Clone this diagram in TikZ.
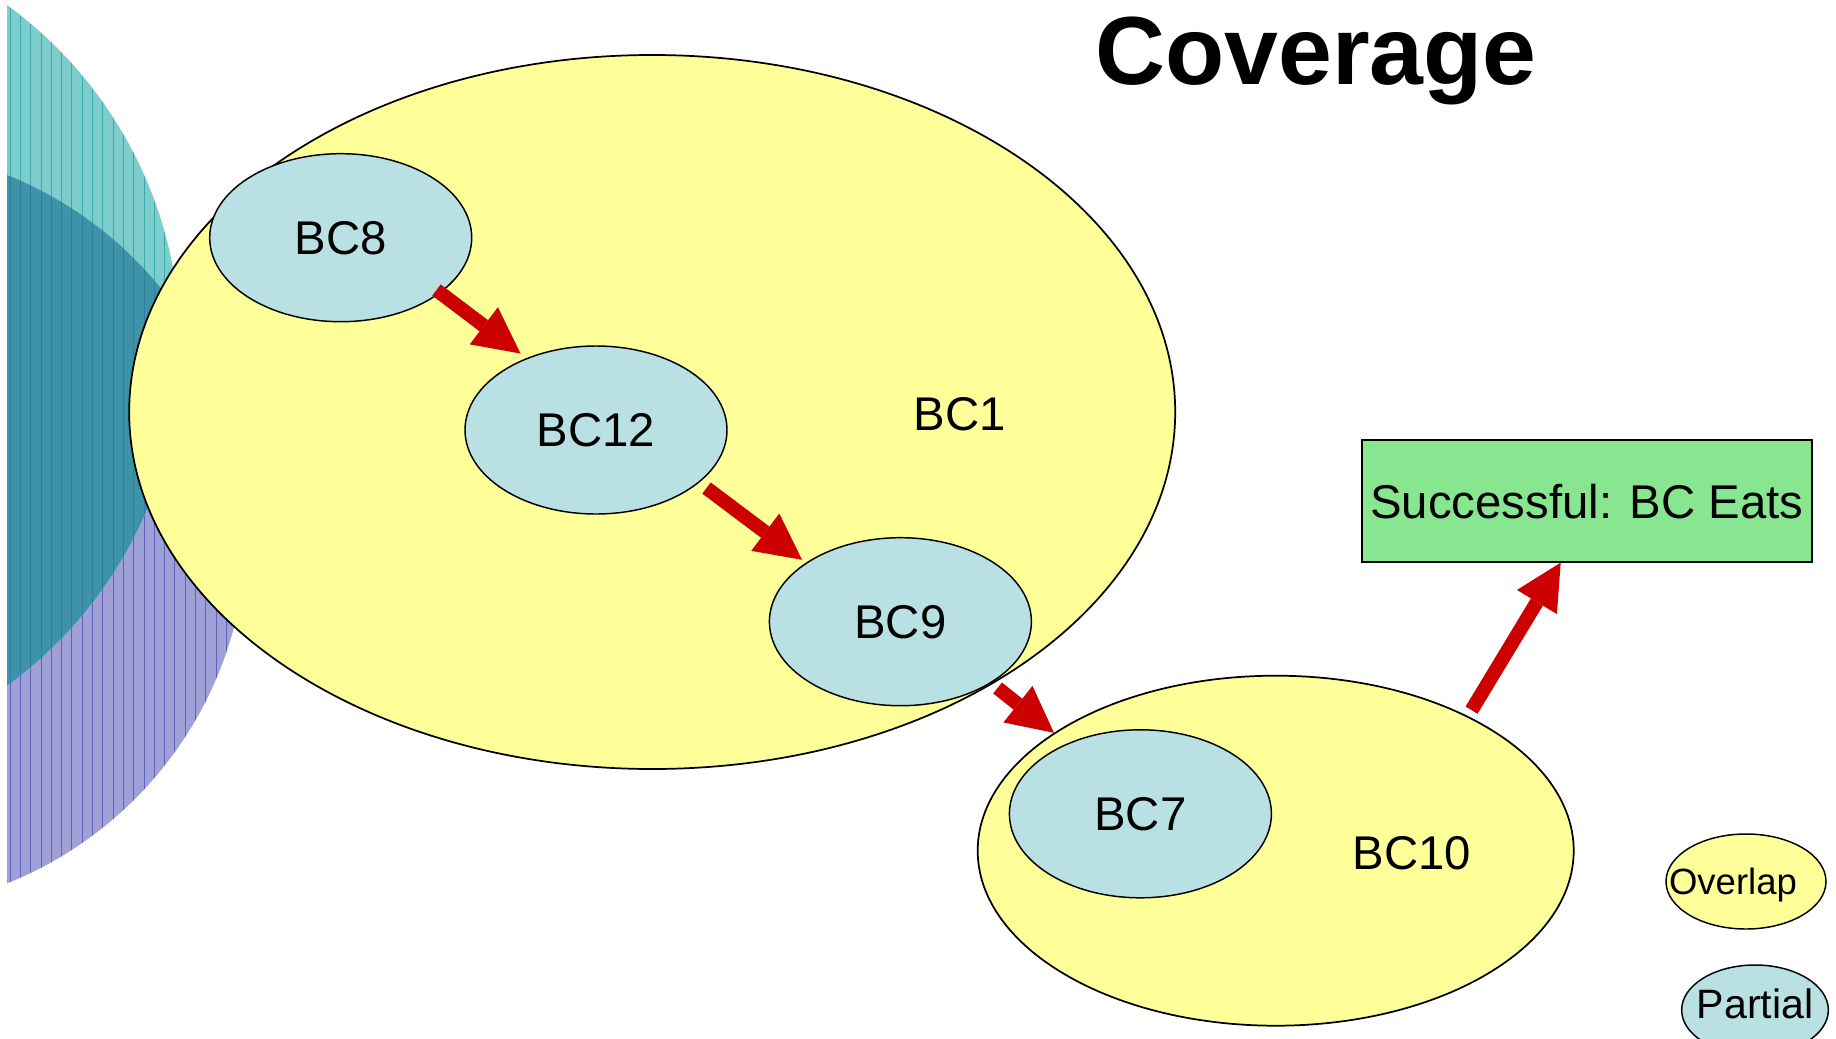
\documentclass[tikz,border=0pt]{standalone}
\usepackage{fontspec}
\setmainfont{Liberation Sans}
\usetikzlibrary{arrows.meta,shapes.geometric}
\definecolor{ylw}{HTML}{FFFF99}
\definecolor{lblue}{HTML}{B9E0E3}
\definecolor{grn}{HTML}{88E590}
\definecolor{arrred}{HTML}{CC0000}
\definecolor{tealf}{HTML}{7DCDCD}
\definecolor{teals}{HTML}{3AABAB}
\definecolor{darkf}{HTML}{3F93A8}
\definecolor{darks}{HTML}{2E7CA2}
\definecolor{purf}{HTML}{A0A0D8}
\definecolor{purs}{HTML}{6262BC}
\begin{document}
\begin{tikzpicture}[x=0.75pt,y=-0.75pt,
  blob/.style={ellipse,draw=black,line width=1.1pt,inner sep=0pt,
    minimum width=196.5pt,minimum height=126pt,fill=lblue,
    font=\fontsize{35.5pt}{40pt}\selectfont,text depth=0pt},
  zone/.style={ellipse,draw=black,line width=1.3pt,inner sep=0pt,fill=ylw},
  lbl/.style={inner sep=0pt,font=\fontsize{35.5pt}{40pt}\selectfont,text depth=0pt},
  flow/.style={draw=arrred,line width=10.5pt,
    -{Triangle[length=34.5pt,width=35pt,line width=0pt]}},
  legendtxt/.style={inner sep=0pt,text depth=0pt}]
\useasboundingbox (0,0) rectangle (1836,1039);
\fill[white] (0,0) rectangle (1836,1039);
% left background shapes
\begin{scope}
  \clip (7,0) rectangle (400,1039);
  \fill[purf] (-134.7,529.2) circle[radius=381.4];
  \begin{scope}
    \clip (-134.7,529.2) circle[radius=381.4];
    \foreach \i in {0,...,25} \draw[purs,line width=0.6pt] (10+\i*10.3,0) -- (10+\i*10.3,1039);
  \end{scope}
  \fill[tealf] (-240.9,345.4) circle[radius=421];
  \begin{scope}
    \clip (-240.9,345.4) circle[radius=421];
    \foreach \i in {0,...,25} \draw[teals,line width=0.6pt] (10+\i*10.3,0) -- (10+\i*10.3,1039);
  \end{scope}
  \begin{scope}
    \clip (-240.9,345.4) circle[radius=421];
    \clip (-134.7,529.2) circle[radius=381.4];
    \fill[darkf] (0,0) rectangle (400,1039);
    \foreach \i in {0,...,25} \draw[darks,line width=0.6pt] (10+\i*10.3,0) -- (10+\i*10.3,1039);
  \end{scope}
\end{scope}
% main zones
\node[zone,minimum width=784.5pt,minimum height=535.5pt] (bc1) at (652.2,412) {};
\node[lbl] (bc1lbl) at (959.5,414) {BC1};
\node[blob] (bc8) at (340.7,237.7) {BC8};
\node[blob] (bc12) at (596,430) {BC12};
\node[blob] (bc9) at (900.4,621.7) {BC9};
\node[zone,minimum width=447pt,minimum height=262.5pt] (bc10) at (1275.7,850.7) {};
\node[lbl] (bc10lbl) at (1412,853) {BC10};
\node[blob] (bc7) at (1140.4,813.8) {BC7};
% result box
\node[draw=black,line width=1.3pt,fill=grn,minimum width=337.7pt,minimum height=91.3pt,
  inner sep=0pt,font=\fontsize{35.5pt}{40pt}\selectfont,text depth=0pt] (box) at (1586.9,500.9) {Successful: BC Eats};
% arrows
\draw[flow,shorten <=-3.75pt,shorten >=5.6pt] (bc8.-29.3) -- (bc12.134.1);
\draw[flow,shorten <=6.8pt,shorten >=3.6pt] (bc12.-27.1) -- (bc9.148.5);
\draw[flow,shorten <=6pt] (bc9.-34.8) -- (bc10.152.5);
\draw[flow,shorten <=5.2pt] (bc10.35) -- (box.-113.9);
% legend
\node[zone,line width=1.1pt,minimum width=120pt,minimum height=71.25pt] (ovl) at (1746,881.5) {};
\node[legendtxt,font=\fontsize{27.4pt}{30pt}\selectfont] (ovltxt) at ([xshift=-9.75pt]ovl.center) {Overlap};
\node[ellipse,draw=black,line width=1.1pt,fill=lblue,inner sep=0pt,minimum width=110pt,minimum height=67.5pt] (par) at (1755,1010) {};
\node[legendtxt,font=\fontsize{30.8pt}{34pt}\selectfont] (partxt) at ([yshift=4.5pt]par.center) {Partial};
% title
\node[anchor=base,inner sep=0pt,font=\fontsize{72.6pt}{80pt}\selectfont\bfseries] (title) at (1316,84) {Coverage};
\end{tikzpicture}
\end{document}
